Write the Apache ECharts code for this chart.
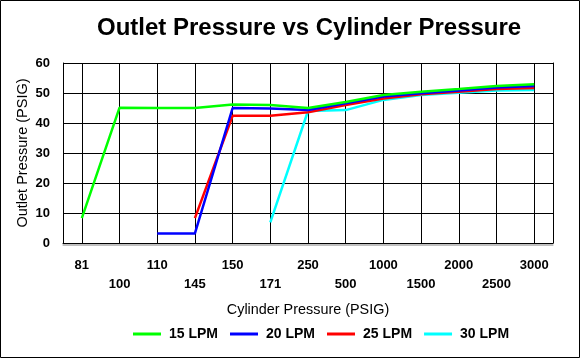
<!DOCTYPE html>
<html><head><meta charset="utf-8">
<script src="https://cdn.jsdelivr.net/npm/echarts@6/dist/echarts.min.js"></script>
<style>html,body{margin:0;padding:0;background:#fff}#c{width:581px;height:359px}</style>
</head><body><div id="c"></div>
<script>
const categories = ['81','100','110','145','150','171','250','500','1000','1500','2000','2500','3000'];
const lpm15 = [8.3, 45.1, 45, 45, 46.2, 46, 45, 47, 49.3, 50.4, 51.3, 52.3, 52.9];
const lpm20 = [null, null, 3.2, 3.2, 45, 44.8, 44.3, 46.6, 48.8, 49.9, 50.8, 51.8, 52.3];
const lpm25 = [null, null, null, 8.3, 42.4, 42.4, 43.6, 46, 48.2, 49.6, 50.4, 51.3, 51.7];
const lpm30 = [null, null, null, null, null, 6.9, 44, 44.3, 47.7, 49.3, 50.1, 50.8, 51];
const yTicks = {min: 0, max: 60, interval: 10};
const seriesNames = ['15 LPM','20 LPM','25 LPM','30 LPM'];
const colors = ['#00ff00','#0000ff','#ff0000','#00ffff'];
const font = 'Arial, "Liberation Sans", sans-serif';

const chart = echarts.init(document.getElementById('c'), null, {renderer: 'canvas'});
const values = [lpm15, lpm20, lpm25, lpm30];
const drawOrder = [3, 2, 1, 0];
chart.setOption({
  animation: false,
  backgroundColor: '#fff',
  title: {
    text: 'Outlet Pressure vs Cylinder Pressure',
    left: 92, top: 11,
    textStyle: {fontFamily: font, fontSize: 24, fontWeight: 'bold', color: '#000'}
  },
  legend: {
    data: seriesNames.map(n => ({name: n, icon: 'rect'})),
    left: 128, top: 322,
    itemWidth: 28, itemHeight: 3, itemGap: 12,
    textStyle: {fontFamily: font, fontSize: 14, fontWeight: 'bold', color: '#000', padding: [0,0,0,3]}
  },
  grid: {left: 63, right: 28, top: 63, bottom: 116, containLabel: false},
  xAxis: {
    type: 'category', data: categories, boundaryGap: true,
    name: 'Cylinder Pressure (PSIG)', nameLocation: 'middle', nameGap: 60, nameMoveOverlap: false,
    nameTextStyle: {fontFamily: font, fontSize: 14.4, color: '#000'},
    axisLine: {lineStyle: {color: '#000', width: 1, shadowColor: '#808080', shadowOffsetY: 1.5, shadowBlur: 0}},
    axisTick: {show: false, alignWithLabel: true},
    splitLine: {show: true, alignWithLabel: true, lineStyle: {color: '#000', width: 1}},
    axisLabel: {
      interval: 0, margin: 13, lineHeight: 19,
      fontFamily: font, fontSize: 13, fontWeight: 'bold', color: '#000',
      formatter: (v, i) => (i % 2 ? '\n' + v : v)
    }
  },
  yAxis: [{
    type: 'value', min: yTicks.min, max: yTicks.max, interval: yTicks.interval,
    name: 'Outlet Pressure (PSIG)', nameLocation: 'middle', nameGap: 33, nameMoveOverlap: false,
    nameTextStyle: {fontFamily: font, fontSize: 14.5, color: '#000'},
    axisLine: {show: true, lineStyle: {color: '#000'}},
    axisTick: {show: false},
    splitLine: {lineStyle: {color: '#000', width: 1}},
    axisLabel: {margin: 13, fontFamily: font, fontSize: 13, fontWeight: 'bold', color: '#000'}
  }, {
    type: 'value', min: yTicks.min, max: yTicks.max, interval: yTicks.interval, position: 'right',
    axisLine: {show: true, lineStyle: {color: '#000'}},
    axisTick: {show: false}, axisLabel: {show: false}, splitLine: {show: false}
  }],
  graphic: [{
    type: 'rect', shape: {x: 0.5, y: 0.5, width: 579, height: 357},
    style: {fill: 'none', stroke: '#000', lineWidth: 1}, silent: true
  }],
  series: drawOrder.map(i => ({
    name: seriesNames[i], type: 'line', data: values[i],
    showSymbol: false, symbol: 'none', connectNulls: false,
    lineStyle: {color: colors[i], width: 2.5},
    itemStyle: {color: colors[i]}
  }))
});
</script></body></html>
